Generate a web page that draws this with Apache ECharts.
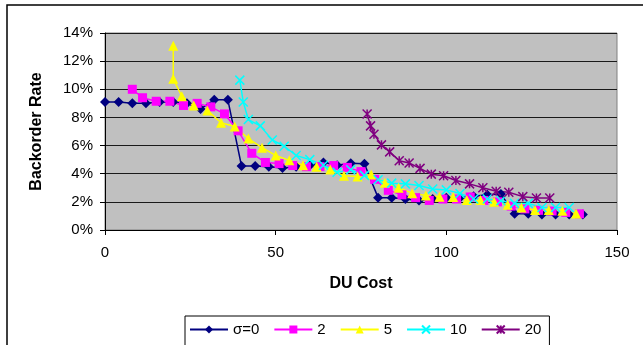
<!DOCTYPE html>
<html>
<head>
<meta charset="utf-8">
<script src="https://cdn.jsdelivr.net/npm/echarts@6/dist/echarts.min.js"></script>
<style>
html,body{margin:0;padding:0;background:#fff;}
#c{width:643px;height:345px;}
</style>
</head>
<body>
<div id="c"></div>
<script>
// ---- data (DU Cost, Backorder Rate %) ----
const s0x = [0,4,8,12,16,20,24,28,32,36,40,44,48,52,56,60,64,68,72,76,80,84,88,92,96,100,104,108,112,116,120,124,128,132,136,140];
const s0y = [9.1,9.1,9.0,9.0,9.1,9.1,9.0,8.6,9.25,9.25,4.55,4.55,4.5,4.4,4.5,4.6,4.8,4.6,4.75,4.7,2.3,2.3,2.2,2.1,2.2,2.3,2.3,2.4,2.5,2.55,1.15,1.15,1.1,1.1,1.1,1.1];

const s2x = [8,11,15,19,23,27,31,35,39,43,47,51,55,59,63,67,71,75,79,83,87,91,95,99,103,107,111,115,119,123,127,131,135,139];
const s2y = [10.0,9.4,9.15,9.15,8.85,9.0,8.75,8.25,7.05,5.45,4.8,4.72,4.58,4.5,4.5,4.58,4.45,4.15,3.6,2.82,2.5,2.3,2.1,2.2,2.2,2.35,2.1,2.0,1.7,1.5,1.4,1.35,1.25,1.15];

const s5x = [20,20,22.5,26,30,34,38,42,46,50,54,58,62,66,70,74,78,82,86,90,94,98,102,106,110,114,118,122,126,130,134,138];
const s5y = [13.1,10.75,9.5,8.85,8.5,7.62,7.35,6.5,5.85,5.3,4.95,4.6,4.5,4.3,3.85,3.8,3.95,3.35,3.0,2.62,2.45,2.37,2.35,2.13,2.13,2.0,1.8,1.6,1.42,1.42,1.36,1.17];

const s10x = [39.5,40.5,42,45.5,49,52.5,56,60,64,68,72,76,80,84,88,92,96,100,104,108,112,116,120,124,128,132,136];
const s10y = [10.65,9.1,7.85,7.4,6.4,5.95,5.3,5.0,4.6,4.1,4.28,3.88,3.57,3.33,3.28,3.16,2.92,2.85,2.6,2.2,2.2,2.08,1.89,1.89,1.6,1.6,1.6];

const s20x = [76.8,77.8,78.8,81,83.4,86.2,89.1,92.3,95.6,99.2,102.8,106.8,110.7,114.6,118.3,122.4,126.4,130.3];
const s20y = [8.25,7.4,6.8,6.05,5.55,4.92,4.76,4.38,3.97,3.85,3.52,3.28,3.0,2.75,2.68,2.37,2.27,2.28];

const seriesNames = ['σ=0','2','5','10','20'];
const xTicks = [0,50,100,150];
const yTicks = [0,2,4,6,8,10,12,14];

function pairs(xs, ys){ return xs.map((x,i)=>[x, ys[i]]); }

const XPATH = 'path://M0,0 L10,10 M10,0 L0,10';
const STARPATH = 'path://M0,0 L10,10 M10,0 L0,10 M5,0 L5,10';

const FONT = '"Liberation Sans", Arial, sans-serif';

const chart = echarts.init(document.getElementById('c'), null, {renderer:'canvas'});

function lineSeries(name, data, color, symbol, size, stroke){
  return {
    name: name,
    type: 'line',
    data: data,
    symbol: symbol,
    symbolSize: size,
    showSymbol: true,
    animation: false,
    lineStyle: {color: color, width: 1.5},
    itemStyle: stroke ? {color: color, borderColor: color, borderWidth: 1.5} : {color: color, borderWidth: 0},
    emphasis: {disabled: true}
  };
}

chart.setOption({
  animation: false,
  backgroundColor: '#ffffff',
  textStyle: {fontFamily: FONT},
  grid: {
    left: 105, right: 26, top: 33, bottom: 115,
    show: true, backgroundColor: '#C0C0C0', borderColor: '#808080', borderWidth: 1,
    containLabel: false
  },
  xAxis: {
    type: 'value', min: xTicks[0], max: xTicks[xTicks.length-1], interval: 50,
    name: 'DU Cost', nameLocation: 'middle', nameGap: 46,
    nameTextStyle: {fontFamily: FONT, fontWeight: 'bold', fontSize: 16, color: '#000'},
    axisLine: {show: true, lineStyle: {color: '#000', width: 1}},
    axisTick: {show: true, length: 5, lineStyle: {color: '#000'}},
    axisLabel: {fontFamily: FONT, fontSize: 15, color: '#000', margin: 15},
    splitLine: {show: false}
  },
  yAxis: {
    type: 'value', min: yTicks[0], max: yTicks[yTicks.length-1], interval: 2,
    name: 'Backorder Rate', nameLocation: 'middle', nameGap: 60, nameRotate: 90,
    nameTextStyle: {fontFamily: FONT, fontWeight: 'bold', fontSize: 16, color: '#000'},
    axisLine: {show: true, lineStyle: {color: '#000', width: 1}},
    axisTick: {show: true, length: 5, lineStyle: {color: '#000'}},
    axisLabel: {fontFamily: FONT, fontSize: 15, color: '#000', margin: 12, formatter: v => v + '%'},
    splitLine: {show: true, lineStyle: {color: '#1a1a1a', width: 1}}
  },
  legend: {
    data: seriesNames,
    left: 185, top: 316,
    orient: 'horizontal',
    itemWidth: 38, itemHeight: 10, itemGap: 14,
    padding: [6, 8, 20, 4],
    borderColor: '#000', borderWidth: 1,
    backgroundColor: '#fff',
    textStyle: {fontFamily: FONT, fontSize: 15, color: '#000', padding: [0,0,0,0]}
  },
  graphic: [{
    type: 'rect', silent: true, z: -10,
    shape: {x: 7, y: 5, width: 700, height: 400},
    style: {fill: 'none', stroke: '#000', lineWidth: 1.5}
  }],
  series: [
    lineSeries(seriesNames[0], pairs(s0x, s0y), '#000080', 'diamond', 10, false),
    lineSeries(seriesNames[1], pairs(s2x, s2y), '#FF00FF', 'rect', 9, false),
    lineSeries(seriesNames[2], pairs(s5x, s5y), '#FFFF00', 'triangle', 10, false),
    lineSeries(seriesNames[3], pairs(s10x, s10y), '#00FFFF', XPATH, 9, true),
    lineSeries(seriesNames[4], pairs(s20x, s20y), '#800080', STARPATH, 9, true)
  ]
});
</script>
</body>
</html>
